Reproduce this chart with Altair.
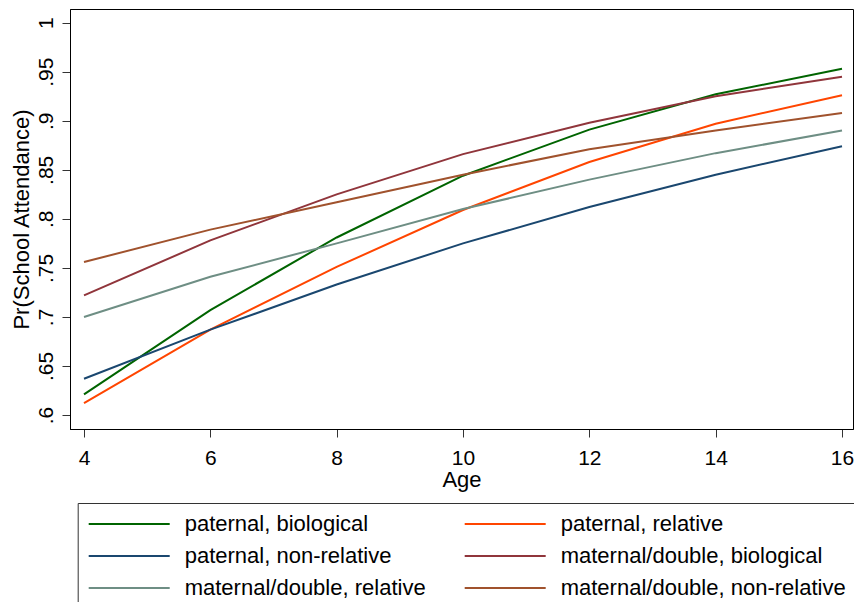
import altair as alt
import pandas as pd

ages = [4, 6, 8, 10, 12, 14, 16]

series_names = [
    "paternal, biological",
    "paternal, relative",
    "paternal, non-relative",
    "maternal/double, biological",
    "maternal/double, relative",
    "maternal/double, non-relative",
]

pat_bio = [0.621, 0.707, 0.781, 0.844, 0.891, 0.927, 0.953]
pat_rel = [0.612, 0.687, 0.751, 0.809, 0.858, 0.897, 0.926]
pat_nonrel = [0.637, 0.687, 0.733, 0.775, 0.812, 0.845, 0.874]
mat_bio = [0.722, 0.778, 0.825, 0.866, 0.898, 0.925, 0.945]
mat_rel = [0.700, 0.741, 0.775, 0.810, 0.840, 0.867, 0.890]
mat_nonrel = [0.756, 0.789, 0.817, 0.845, 0.871, 0.890, 0.908]

colors = ["#006400", "#ff4500", "#1a476f", "#90353b", "#6e8e84", "#a0522d"]

# legend fills column by column: col 1 then col 2
legend_order = [0, 2, 4, 1, 3, 5]

y_ticks = [0.6, 0.65, 0.7, 0.75, 0.8, 0.85, 0.9, 0.95, 1.0]
x_ticks = [4, 6, 8, 10, 12, 14, 16]

all_series = [pat_bio, pat_rel, pat_nonrel, mat_bio, mat_rel, mat_nonrel]
rows = []
for name, vals in zip(series_names, all_series):
    for a, v in zip(ages, vals):
        rows.append({"Age": a, "p": v, "group": name})
df = pd.DataFrame(rows)

dom = [series_names[i] for i in legend_order]
rng = [colors[i] for i in legend_order]

FONT = "Liberation Sans"

chart = (
    alt.Chart(df)
    .mark_line(strokeWidth=2)
    .encode(
        x=alt.X(
            "Age:Q",
            scale=alt.Scale(domain=[3.7784, 16.174], nice=False, zero=False),
            axis=alt.Axis(
                values=x_ticks,
                title="Age",
                grid=False,
                tickSize=8,
                labelPadding=27,
                labelBaseline="alphabetic",
                labelFlush=False,
                labelOverlap=False,
                titleBaseline="alphabetic",
                titleY=57,
            ),
        ),
        y=alt.Y(
            "p:Q",
            scale=alt.Scale(domain=[0.58573, 1.01397], nice=False, zero=False),
            axis=alt.Axis(
                values=y_ticks,
                title="Pr(School Attendance)",
                grid=False,
                tickSize=8,
                labelPadding=10,
                labelAngle=270,
                labelAlign="center",
                labelBaseline="alphabetic",
                labelFlush=False,
                labelOverlap=False,
                labelExpr="datum.value >= 1 ? '1' : slice(format(datum.value, '.2~f'), 1)",
                titleAngle=270,
                titleAlign="center",
                titleBaseline="alphabetic",
                titleX=-41.3,
                titleY=210,
            ),
        ),
        color=alt.Color(
            "group:N",
            scale=alt.Scale(domain=dom, range=rng),
            legend=alt.Legend(
                title=None,
                orient="none",
                legendX=7.7,
                legendY=494,
                columns=2,
                columnPadding=35,
                rowPadding=10,
                padding=10,
                strokeColor="#333333",
                fillColor="#ffffff",
                symbolType="M-1,0L7.1,0",
                symbolSize=400,
                symbolStrokeWidth=2,
                labelOffset=75,
                labelFontSize=22,
                labelFont=FONT,
                labelColor="#000000",
                labelLimit=500,
            ),
        ),
    )
    .properties(
        width=783,
        height=420,
        autosize=alt.AutoSizeParams(type="none"),
        padding={"left": 62, "top": 1, "right": 1, "bottom": 173},
        background="#ffffff",
    )
    .configure_view(stroke="#000000", strokeWidth=1)
    .configure_axis(
        labelFont=FONT,
        titleFont=FONT,
        labelFontSize=21,
        titleFontSize=22,
        titleFontWeight="normal",
        labelColor="#000000",
        titleColor="#000000",
        domainColor="#000000",
        tickColor="#333333",
        domainWidth=1,
        tickWidth=1,
    )
)

chart.save("out.html", embed_options={"renderer": "svg", "actions": False})
